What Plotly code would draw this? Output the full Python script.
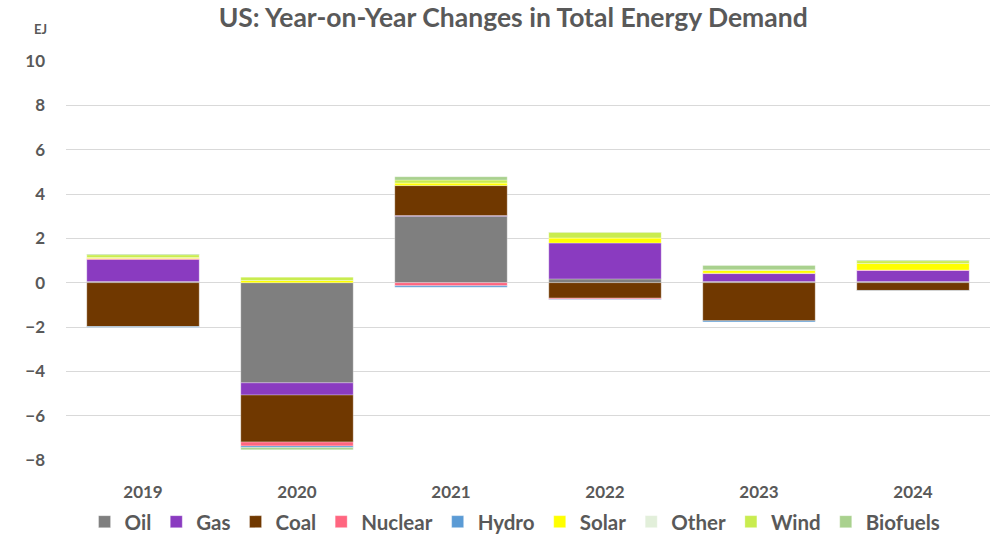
import plotly.graph_objects as go

years = ["2019", "2020", "2021", "2022", "2023", "2024"]
oil      = [0.05, -4.52, 3.00, 0.17, 0.05, 0.05]
gas      = [1.00, -0.55, 0.03, 1.62, 0.36, 0.50]
coal     = [-1.98, -2.12, 1.35, -0.70, -1.72, -0.35]
nuclear  = [0.04, -0.18, -0.14, -0.05, 0.02, 0.02]
hydro    = [-0.03, -0.07, -0.07, -0.02, -0.05, -0.01]
solar    = [0.04, 0.10, 0.12, 0.23, 0.12, 0.30]
other    = [0.00, 0.00, 0.00, 0.00, 0.00, 0.00]
wind     = [0.13, 0.15, 0.13, 0.25, 0.03, 0.12]
biofuels = [0.03, -0.10, 0.15, 0.02, 0.20, 0.03]

series = [
    ("Oil", oil, "#7f7f7f"),
    ("Gas", gas, "#8a3bc0"),
    ("Coal", coal, "#703800"),
    ("Nuclear", nuclear, "#ff6680"),
    ("Hydro", hydro, "#5b9bd5"),
    ("Solar", solar, "#ffff00"),
    ("Other", other, "#e2efda"),
    ("Wind", wind, "#c9ec4f"),
    ("Biofuels", biofuels, "#a9d18e"),
]

fig = go.Figure()
for name, vals, col in series:
    fig.add_trace(go.Bar(
        x=years, y=vals, name="<b>" + name + "</b>",
        marker=dict(color=col, line=dict(color="rgba(255,255,255,0.6)", width=0.5)),
    ))

grey = "#595959"
font_family = "Lato, 'Open Sans', sans-serif"
fig.update_layout(
    barmode="relative",
    bargap=0.27,
    width=994, height=535,
    margin=dict(l=66, r=4, t=61, b=75, autoexpand=False),
    plot_bgcolor="white", paper_bgcolor="white",
    font=dict(family=font_family, color=grey),
    title=dict(text="<b>US: Year-on-Year Changes in Total Energy Demand</b>",
               x=0.484, xref="paper", xanchor="center", y=0.966, yanchor="middle",
               font=dict(size=26.5, color=grey, family=font_family)),
    xaxis=dict(showgrid=False, showline=False, ticks="", automargin=False,
               tickfont=dict(size=17, color=grey), ticklabelstandoff=20,
               tickprefix="<b>", ticksuffix="</b>"),
    yaxis=dict(range=[-8, 10], dtick=2, showgrid=True, gridcolor="#d9d9d9",
               gridwidth=1, zeroline=True, zerolinecolor="#d9d9d9", zerolinewidth=1,
               showline=False, ticks="", tickfont=dict(size=17, color=grey),
               automargin=False, ticklabelstandoff=20, tickformat="d",
               tickprefix="<b>", ticksuffix="</b>"),
    legend=dict(orientation="h", x=0.486, xanchor="center", y=-0.155, yanchor="middle",
                font=dict(size=20.5, color=grey), traceorder="normal",
                itemwidth=30),
    annotations=[dict(text="<b>EJ</b>", xref="paper", yref="paper",
                      x=-0.028, y=1.08, xanchor="center", yanchor="middle",
                      showarrow=False, font=dict(size=13, color=grey))],
)

fig.write_html("out.html", config={"displayModeBar": False},
               post_script="document.body.style.margin='0';")
